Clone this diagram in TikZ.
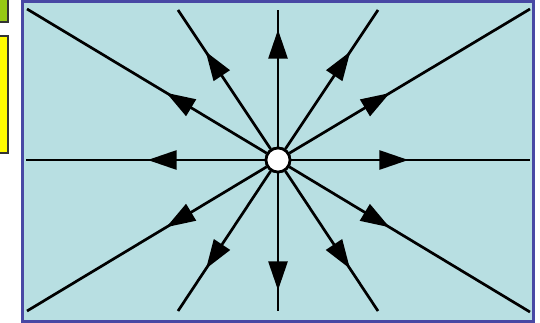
\documentclass[tikz,border=0pt]{standalone}
\usetikzlibrary{arrows.meta,decorations.markings}
\definecolor{panel}{RGB}{184,223,226}
\definecolor{rim}{RGB}{72,72,164}
\definecolor{gbox}{RGB}{150,200,20}
\definecolor{ybox}{RGB}{255,250,0}
\begin{document}
\begin{tikzpicture}[x=1pt,y=-1pt,
  spoke/.style={line width=2.7pt,
    postaction={decorate},
    decoration={markings,mark=at position 117pt with {\arrow{Triangle[length=29pt,width=19pt]}}}},
  source/.style={circle,draw=black,fill=white,line width=2.7pt,minimum size=24pt,inner sep=0pt}]
\useasboundingbox (0,0) rectangle (540,323);
% side boxes (partially visible)
\draw[fill=gbox,draw=black!80,line width=1.5pt] (-5,-5) rectangle (8,22);
\draw[fill=ybox,draw=black!80,line width=1.5pt] (-5,36) rectangle (8,153);
% panel
\draw[fill=panel,draw=rim,line width=3pt] (22,2) rectangle (533,321);
% ends
\coordinate (n) at (278,10);
\coordinate (s) at (278,311);
\coordinate (w) at (26,160);
\coordinate (e) at (530,160);
\coordinate (nnw) at (178,10);
\coordinate (nne) at (378,10);
\coordinate (ssw) at (178,311);
\coordinate (sse) at (378,311);
\coordinate (wnw) at (27,9);
\coordinate (ene) at (530,9);
\coordinate (wsw) at (27,311);
\coordinate (ese) at (530,312);
\node[source] (c) at (278,160) {};
\foreach \t in {n,s,w,e,nnw,nne,ssw,sse,wnw,ene,wsw,ese}
  \draw[spoke] (c) -- (\t);
\node[source] at (c) {};
\end{tikzpicture}
\end{document}
